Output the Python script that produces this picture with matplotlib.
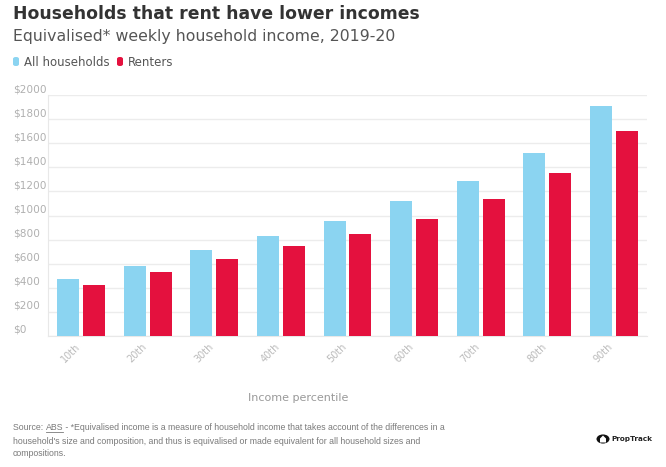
import matplotlib
matplotlib.use("Agg")
import matplotlib.pyplot as plt
import matplotlib.transforms as mtransforms
from matplotlib.patches import Circle, FancyBboxPatch, Polygon
import numpy as np

categories = ["10th", "20th", "30th", "40th", "50th", "60th", "70th", "80th", "90th"]
all_households = [476, 583, 712, 829, 955, 1118, 1285, 1518, 1905]
renters = [424, 530, 640, 745, 848, 970, 1136, 1352, 1700]
yticks = [0, 200, 400, 600, 800, 1000, 1200, 1400, 1600, 1800, 2000]
ytick_labels = ["$" + str(v) for v in yticks]

BLUE = "#8bd4f1"
RED = "#e4113e"
plt.rcParams["font.family"] = ["DejaVu Sans"]
FOOT_FONT = ["Liberation Sans"]

W, H = 666, 467
fig = plt.figure(figsize=(W / 100, H / 100), dpi=100)
ax = fig.add_axes([48 / W, 1 - 336 / H, (647 - 48) / W, (336 - 95) / H])

x = np.arange(len(categories))
bw = 0.33
gap = 0.06
ax.bar(x - (bw + gap) / 2, all_households, width=bw, color=BLUE, label="All households", zorder=3)
ax.bar(x + (bw + gap) / 2, renters, width=bw, color=RED, label="Renters", zorder=3)

ax.set_xlim(-0.5, len(categories) - 0.5)
ax.set_ylim(0, 2000)
ax.set_yticks(yticks)
ax.set_yticklabels(ytick_labels)
ax.yaxis.grid(True, color="#ececec", linewidth=1, zorder=0)
ax.set_axisbelow(True)
for s in ["top", "right"]:
    ax.spines[s].set_visible(False)
ax.spines["left"].set_color("#e8e8e8")
ax.spines["bottom"].set_color("#e8e8e8")
ax.tick_params(axis="y", length=0, pad=25, labelsize=7.6, labelcolor="#b0b0b0")
ax.tick_params(axis="x", length=0, pad=4, labelsize=7, labelcolor="#bbbbbb")
offset = mtransforms.ScaledTranslation(0, 7 / 100, fig.dpi_scale_trans)
for lab in ax.get_yticklabels():
    lab.set_horizontalalignment("left")
    lab.set_transform(lab.get_transform() + offset)
ax.set_xticks(x)
ax.set_xticklabels(categories, rotation=45, ha="right", rotation_mode="anchor")
xoff = mtransforms.ScaledTranslation(-6 / 100, 0, fig.dpi_scale_trans)
for lab in ax.get_xticklabels():
    lab.set_transform(lab.get_transform() + xoff)

# Titles
fig.text(13 / W, 1 - 14 / H, "Households that rent have lower incomes", fontsize=12.4,
         fontweight="bold", color="#333333", va="center", ha="left")
fig.text(13 / W, 1 - 36 / H, "Equivalised* weekly household income, 2019-20", fontsize=11.3,
         color="#555555", va="center", ha="left")

# Legend
for (lx, col, txt) in [(13, BLUE, "All households"), (117, RED, "Renters")]:
    p = FancyBboxPatch((lx / W, 1 - 66 / H), 6 / W, 9 / H,
                       boxstyle="round,pad=0,rounding_size=0.004",
                       transform=fig.transFigure, color=col, linewidth=0)
    fig.patches.append(p)
    fig.text((lx + 11) / W, 1 - 62 / H, txt, fontsize=8.5, color="#555555",
             va="center", ha="left")

# X axis label
fig.text(298 / W, 1 - 398 / H, "Income percentile", fontsize=8, color="#999999",
         va="center", ha="center")

# Footer
foot_color = "#7a7a7a"
fs = 6.3
t1 = fig.text(13 / W, 1 - 428 / H, "Source: ", fontsize=fs, color=foot_color, va="center",
              ha="left", family=FOOT_FONT)
fig.canvas.draw()
r = fig.canvas.get_renderer()
bb1 = t1.get_window_extent(r)
t2 = fig.text(bb1.x1 / W, 1 - 428 / H, "ABS", fontsize=fs, color=foot_color, va="center",
              ha="left", family=FOOT_FONT)
bb2 = t2.get_window_extent(r)
fig.add_artist(plt.Line2D([bb2.x0 / W, bb2.x1 / W], [(bb2.y0 + 0.5) / H] * 2,
                          color=foot_color, linewidth=0.6, transform=fig.transFigure))
fig.text(bb2.x1 / W, 1 - 428 / H,
         " - *Equivalised income is a measure of household income that takes account of the differences in a",
         fontsize=fs, color=foot_color, va="center", ha="left", family=FOOT_FONT)
fig.text(13 / W, 1 - 441 / H,
         "household's size and composition, and thus is equivalised or made equivalent for all household sizes and",
         fontsize=fs, color=foot_color, va="center", ha="left", family=FOOT_FONT)
fig.text(13 / W, 1 - 454 / H, "compositions.", fontsize=fs, color=foot_color, va="center",
         ha="left", family=FOOT_FONT)

# Logo
cx, cy = 603, 439
fig.patches.append(Circle((cx / W, 1 - cy / H), 6.5 / W, transform=fig.transFigure,
                          color="#111111", linewidth=0))
house = Polygon([((cx - 3) / W, 1 - (cy + 3.5) / H), ((cx + 3) / W, 1 - (cy + 3.5) / H),
                 ((cx + 3) / W, 1 - (cy - 0.5) / H), (cx / W, 1 - (cy - 3.5) / H),
                 ((cx - 3) / W, 1 - (cy - 0.5) / H)], closed=True,
                transform=fig.transFigure, color="white", linewidth=0)
fig.patches.append(house)
fig.text(611 / W, 1 - cy / H, "PropTrack", fontsize=5.2, fontweight="bold", color="#222222",
         va="center", ha="left")

fig.savefig("out.png", dpi=100)
